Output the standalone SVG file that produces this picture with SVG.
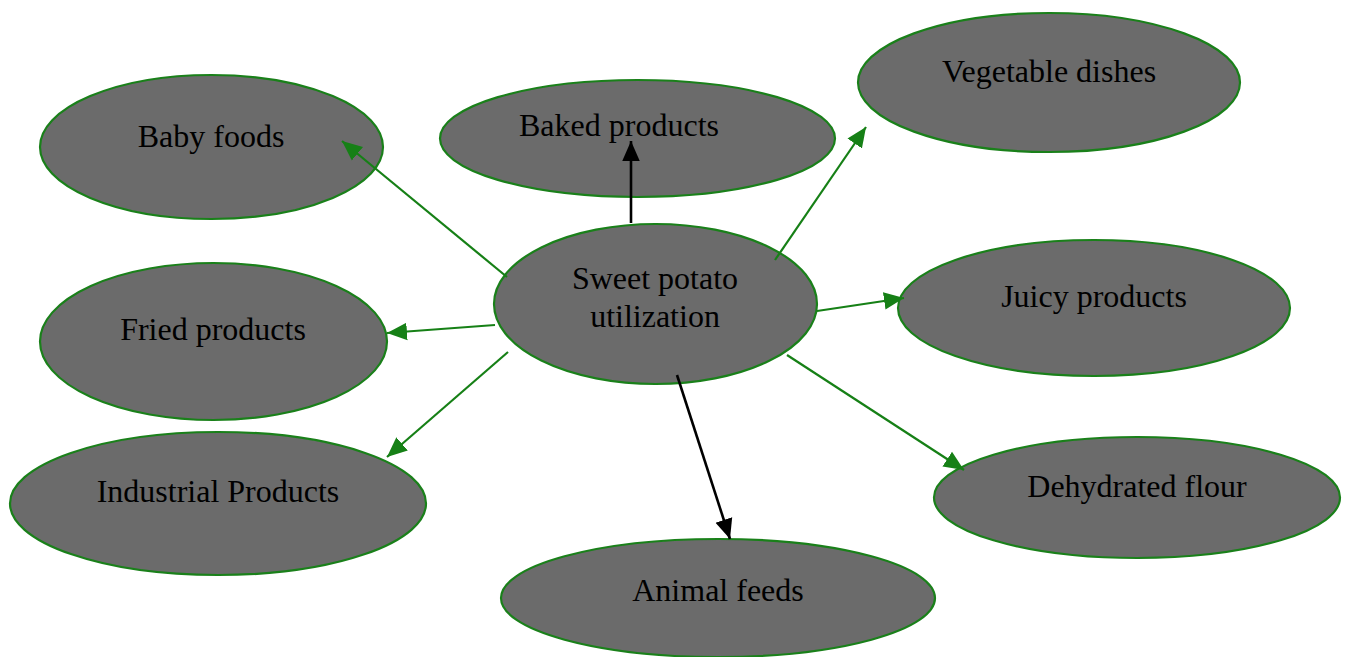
<svg xmlns="http://www.w3.org/2000/svg" width="1346" height="657" viewBox="0 0 1346 657">
<style>
.n ellipse{fill:#6b6b6b;stroke:#1a801a;stroke-width:2.2}
.n text{font-family:"Liberation Serif","Times New Roman",serif;font-size:32px;fill:#000;text-anchor:middle}
.g{stroke:#168016;stroke-width:2.2;fill:none;marker-end:url(#ag)}
.b{stroke:#000;stroke-width:2.6;fill:none;marker-end:url(#ab)}
</style>
<defs>
<marker id="ag" markerUnits="userSpaceOnUse" markerWidth="20" markerHeight="20" viewBox="0 0 16 14" refX="16" refY="7" orient="auto"><path d="M0,0 L16,7 L0,14 Z" fill="#168016"/></marker>
<marker id="ab" markerUnits="userSpaceOnUse" markerWidth="20" markerHeight="20" viewBox="0 0 16 14" refX="16" refY="7" orient="auto"><path d="M0,0 L16,7 L0,14 Z" fill="#000"/></marker>
</defs>
<rect width="1346" height="657" fill="#fff"/>
<g id="baby" class="n"><ellipse cx="211.5" cy="147" rx="171.5" ry="72"/><text x="211" y="147">Baby foods</text></g>
<g id="baked" class="n"><ellipse cx="637.5" cy="138.5" rx="197.5" ry="58.5"/><text x="619" y="136">Baked products</text></g>
<g id="veg" class="n"><ellipse cx="1049" cy="82.5" rx="191" ry="69.5"/><text x="1049" y="82">Vegetable dishes</text></g>
<g id="juicy" class="n"><ellipse cx="1094" cy="308" rx="196" ry="68"/><text x="1094" y="307">Juicy products</text></g>
<g id="fried" class="n"><ellipse cx="213.5" cy="341.5" rx="173.5" ry="78.5"/><text x="213" y="340">Fried products</text></g>
<g id="industrial" class="n"><ellipse cx="218" cy="503.5" rx="208" ry="71.5"/><text x="218" y="502">Industrial Products</text></g>
<g id="flour" class="n"><ellipse cx="1137" cy="497.5" rx="203" ry="60.5"/><text x="1137" y="497">Dehydrated flour</text></g>
<g id="feeds" class="n"><ellipse cx="718" cy="598" rx="217" ry="59"/><text x="718" y="601">Animal feeds</text></g>
<g id="center" class="n"><ellipse cx="655.5" cy="304" rx="161.5" ry="80"/><text x="655" y="289">Sweet potato</text><text x="655" y="327">utilization</text></g>
<g id="connectors">
<line class="g" x1="507" y1="277" x2="342" y2="141"/>
<line class="b" x1="631" y1="223" x2="631" y2="141"/>
<line class="g" x1="775" y1="260" x2="866" y2="127"/>
<line class="g" x1="817" y1="311" x2="904" y2="298"/>
<line class="g" x1="495" y1="325" x2="387" y2="333"/>
<line class="g" x1="508" y1="352" x2="387" y2="457"/>
<line class="b" x1="677" y1="375" x2="730" y2="539"/>
<line class="g" x1="787" y1="355" x2="964" y2="470"/>
</g>
</svg>
